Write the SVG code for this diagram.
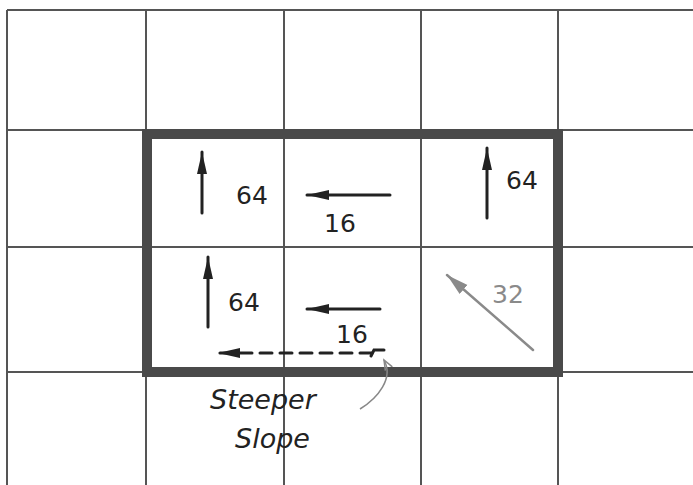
<svg xmlns="http://www.w3.org/2000/svg" width="693" height="485" viewBox="0 0 693 485">
<style>
.grid{stroke:#555;stroke-width:2;fill:none}
.frame{stroke:#4a4a4a;stroke-width:10;fill:none}
.arr{stroke:#222;stroke-width:3;fill:none;stroke-linecap:round}
.garr{stroke:#8a8a8a;stroke-width:2.5;fill:none;stroke-linecap:round}
.lbl{font-family:"DejaVu Sans","Liberation Sans",sans-serif;font-size:25px;fill:#222}
.glbl{font-family:"DejaVu Sans","Liberation Sans",sans-serif;font-size:25px;fill:#8a8a8a}
.note{font-family:"DejaVu Sans","Liberation Sans",sans-serif;font-size:27px;fill:#222;font-style:italic}
</style>
<defs>
<marker id="ah" markerWidth="24" markerHeight="14" refX="22" refY="7" orient="auto" markerUnits="userSpaceOnUse">
<path d="M0,2 L22,7 L0,12 Z" fill="#222"/>
</marker>
<marker id="gah" markerWidth="24" markerHeight="16" refX="22" refY="8" orient="auto" markerUnits="userSpaceOnUse">
<path d="M0,2 L22,8 L0,14 Z" fill="#8a8a8a"/>
</marker>
<marker id="cah" markerWidth="12" markerHeight="10" refX="10" refY="5" orient="auto" markerUnits="userSpaceOnUse">
<path d="M0,1 L10,5 L0,9" fill="none" stroke="#888" stroke-width="1.5"/>
</marker>
</defs>
<rect width="693" height="485" fill="#fff"/>
<g id="grid">
<path class="grid" d="M7,10 H693 M7,130 H693 M7,247 H693 M7,372 H693 M7,10 V485 M146,10 V485 M284,10 V485 M421,10 V485 M558,10 V485"/>
</g>
<g id="frame">
<rect class="frame" x="147" y="134" width="411" height="238"/>
</g>
<g id="connectors">
<line class="arr" x1="202" y1="213" x2="202" y2="152" marker-end="url(#ah)"/>
<line class="arr" x1="390" y1="195" x2="307" y2="195" marker-end="url(#ah)"/>
<line class="arr" x1="487" y1="218" x2="487" y2="148" marker-end="url(#ah)"/>
<line class="arr" x1="208" y1="327" x2="208" y2="257" marker-end="url(#ah)"/>
<line class="arr" x1="380" y1="309" x2="307" y2="309" marker-end="url(#ah)"/>
<line class="arr" x1="372" y1="353" x2="218" y2="353" stroke-dasharray="12,8" marker-end="url(#ah)"/>
<path class="arr" d="M371,356 L374,350 L384,350" stroke-width="2.5"/>
<line class="garr" x1="533" y1="350" x2="447" y2="275" marker-end="url(#gah)"/>
<path d="M360,409 C378,398 394,378 384,360" fill="none" stroke="#888" stroke-width="1.5" marker-end="url(#cah)"/>
</g>
<g id="n1"><text class="lbl" x="236" y="204">64</text></g>
<g id="n2"><text class="lbl" x="324" y="232">16</text></g>
<g id="n3"><text class="lbl" x="506" y="189">64</text></g>
<g id="n4"><text class="lbl" x="228" y="311">64</text></g>
<g id="n5"><text class="lbl" x="336" y="343">16</text></g>
<g id="n6"><text class="glbl" x="492" y="303">32</text></g>
<g id="n7"><text class="note" x="210" y="409">Steeper</text><text class="note" x="235" y="448">Slope</text></g>
</svg>
